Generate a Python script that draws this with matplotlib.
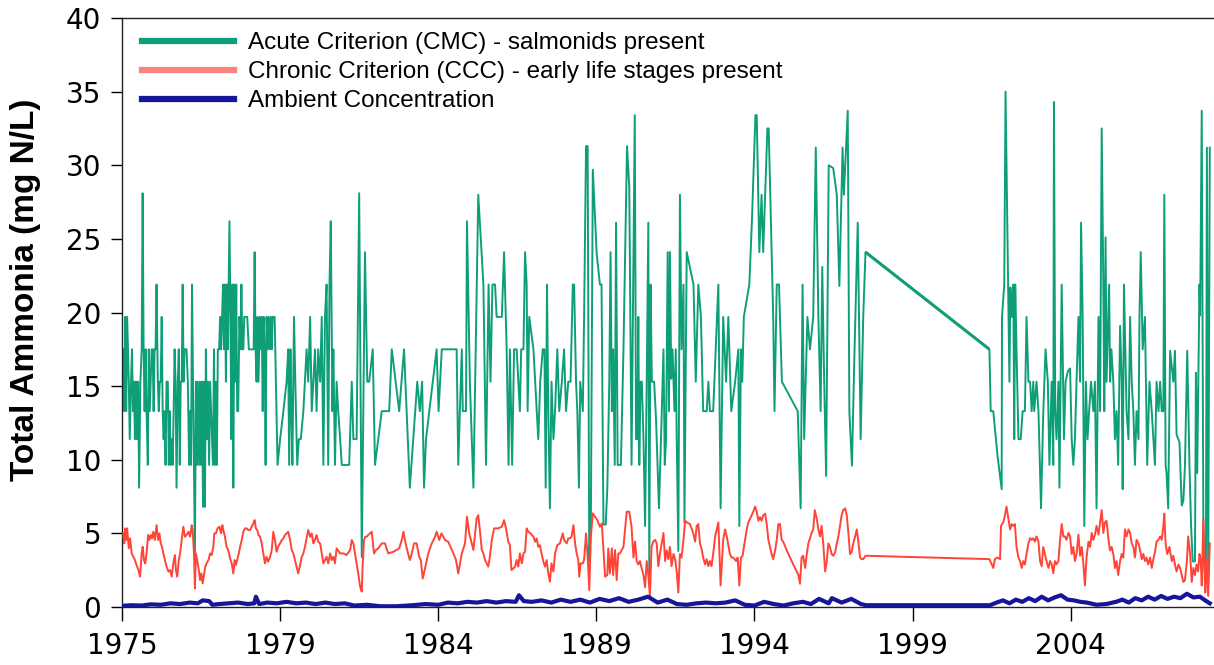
import numpy as np
import matplotlib
matplotlib.use("Agg")
import matplotlib.pyplot as plt
from matplotlib.lines import Line2D

# ---- data ----
acute_years = [
    1975.04, 1975.07, 1975.10, 1975.13, 1975.16, 1975.21, 1975.24, 1975.28, 1975.31, 1975.34,
    1975.37, 1975.40, 1975.43, 1975.46, 1975.50, 1975.53, 1975.57, 1975.61, 1975.64, 1975.67,
    1975.70, 1975.73, 1975.76, 1975.80, 1975.83, 1975.86, 1975.89, 1975.92, 1975.95, 1975.98,
    1976.01, 1976.04, 1976.07, 1976.11, 1976.14, 1976.17, 1976.20, 1976.23, 1976.26, 1976.29,
    1976.32, 1976.35, 1976.38, 1976.42, 1976.45, 1976.48, 1976.51, 1976.54, 1976.57, 1976.60,
    1976.63, 1976.66, 1976.69, 1976.73, 1976.76, 1976.79, 1976.82, 1976.85, 1976.88, 1976.91,
    1976.94, 1977.00, 1977.04, 1977.08, 1977.11, 1977.14, 1977.17, 1977.20, 1977.23, 1977.26,
    1977.29, 1977.32, 1977.35, 1977.39, 1977.42, 1977.45, 1977.48, 1977.51, 1977.54, 1977.57,
    1977.60, 1977.63, 1977.66, 1977.70, 1977.73, 1977.76, 1977.79, 1977.82, 1977.85, 1977.88,
    1977.91, 1977.94, 1977.97, 1978.01, 1978.04, 1978.07, 1978.10, 1978.13, 1978.16, 1978.19,
    1978.22, 1978.25, 1978.28, 1978.33, 1978.36, 1978.39, 1978.42, 1978.45, 1978.48, 1978.51,
    1978.54, 1978.57, 1978.60, 1978.64, 1978.67, 1978.70, 1978.73, 1978.76, 1978.79, 1978.85,
    1978.88, 1978.93, 1979.01, 1979.08, 1979.11, 1979.14, 1979.17, 1979.20, 1979.23, 1979.27,
    1979.30, 1979.33, 1979.36, 1979.39, 1979.42, 1979.45, 1979.48, 1979.51, 1979.54, 1979.58,
    1979.61, 1979.64, 1979.67, 1979.73, 1979.82, 1979.90, 1980.00, 1980.10, 1980.15, 1980.18,
    1980.22, 1980.25, 1980.28, 1980.33, 1980.39, 1980.43, 1980.48, 1980.54, 1980.62, 1980.72,
    1980.77, 1980.83, 1980.88, 1980.93, 1980.98, 1981.03, 1981.08, 1981.14, 1981.19, 1981.24,
    1981.29, 1981.34, 1981.39, 1981.43, 1981.47, 1981.52, 1981.55, 1981.60, 1981.65, 1981.70,
    1981.76, 1981.81, 1981.96, 1982.04, 1982.12, 1982.17, 1982.27, 1982.35, 1982.43,
    1982.53, 1982.60, 1982.66, 1982.77, 1982.84, 1983.05, 1983.28, 1983.36, 1983.59, 1983.74,
    1983.92, 1984.15, 1984.23, 1984.30, 1984.36, 1984.42, 1984.75, 1984.81, 1984.91, 1985.37,
    1985.42, 1985.53, 1985.56, 1985.66, 1985.69, 1985.78, 1985.89, 1986.04, 1986.20, 1986.28,
    1986.36, 1986.42, 1986.48, 1986.56, 1986.61, 1986.77, 1986.84, 1986.92, 1986.98, 1987.02,
    1987.09, 1987.15, 1987.23, 1987.33, 1987.37, 1987.44, 1987.49, 1987.54, 1987.57, 1987.62,
    1987.75, 1987.90, 1987.96, 1988.04, 1988.09, 1988.13, 1988.17, 1988.21, 1988.26, 1988.31,
    1988.37, 1988.42, 1988.49, 1988.55, 1988.63, 1988.70, 1988.76, 1988.83, 1988.90, 1988.97,
    1989.01, 1989.07, 1989.11, 1989.16, 1989.20, 1989.28, 1989.32, 1989.38, 1989.43, 1989.48,
    1989.53, 1989.59, 1989.71, 1989.81, 1989.86, 1989.92, 1989.99, 1990.04, 1990.10, 1990.14,
    1990.18, 1990.22, 1990.27, 1990.31, 1990.36, 1990.46, 1990.54, 1990.65, 1990.72, 1990.79,
    1990.89, 1990.93, 1990.97, 1991.00, 1991.03, 1991.07, 1991.11, 1991.16, 1991.21, 1991.26,
    1991.31, 1991.34, 1991.38, 1991.42, 1991.49, 1991.55, 1991.64, 1991.72, 1991.78, 1991.82,
    1991.86, 1991.91, 1991.95, 1991.98, 1992.02, 1992.06, 1992.12, 1992.16, 1992.19, 1992.24,
    1992.29, 1992.34, 1992.40, 1992.43, 1992.50, 1992.71, 1992.78, 1992.86, 1992.94, 1993.01,
    1993.12, 1993.17, 1993.22, 1993.32, 1993.48, 1993.55, 1993.63, 1993.72, 1993.79, 1993.88,
    1994.00, 1994.10, 1994.13, 1994.18, 1994.22, 1994.27, 1994.44, 1994.52, 1994.63, 1994.67,
    1994.75, 1994.82, 1994.87, 1995.00, 1995.04, 1995.18, 1995.22, 1995.29, 1995.36, 1995.45,
    1995.94, 1996.03, 1996.09, 1996.14, 1996.24, 1996.32, 1996.42, 1996.50, 1996.58, 1996.65,
    1996.70, 1996.76, 1996.82, 1996.90, 1997.04, 1997.15, 1997.23, 1997.33, 1997.37, 1997.49,
    1997.54, 1997.62, 1997.70, 1997.80, 1997.89, 1997.97, 1998.04,
    2001.88, 2001.92, 2002.00, 2002.13, 2002.26, 2002.27, 2002.34, 2002.38, 2002.50, 2002.53,
    2002.57, 2002.62, 2002.65, 2002.68, 2002.72, 2002.78, 2002.85, 2002.91, 2002.98, 2003.03,
    2003.09, 2003.14, 2003.19, 2003.24, 2003.27, 2003.34, 2003.40, 2003.48, 2003.55, 2003.62,
    2003.69, 2003.74, 2003.81, 2003.86, 2003.88, 2003.92, 2003.96, 2004.02, 2004.05, 2004.12,
    2004.19, 2004.24, 2004.31, 2004.38, 2004.43, 2004.48, 2004.53, 2004.58, 2004.64, 2004.69,
    2004.72, 2004.77, 2004.82, 2004.87, 2004.92, 2004.97, 2005.03, 2005.10, 2005.15, 2005.20,
    2005.26, 2005.31, 2005.36, 2005.41, 2005.44, 2005.48, 2005.51, 2005.59, 2005.62, 2005.66,
    2005.72, 2005.77, 2005.82, 2005.87, 2005.93, 2005.98, 2006.01, 2006.05, 2006.13, 2006.19,
    2006.24, 2006.29, 2006.34, 2006.39, 2006.44, 2006.50, 2006.53, 2006.57, 2006.63, 2006.70,
    2006.77, 2006.84, 2006.91, 2007.01, 2007.06, 2007.12, 2007.17, 2007.22, 2007.27, 2007.30,
    2007.34, 2007.37, 2007.42, 2007.48, 2007.58, 2007.63, 2007.68, 2007.77, 2007.84, 2007.89,
    2007.94, 2008.01, 2008.08, 2008.13, 2008.18, 2008.25, 2008.28, 2008.32, 2008.39, 2008.41,
    2008.46, 2008.51, 2008.56, 2008.59, 2008.62, 2008.66, 2008.71,
]
acute_vals = [
    17.5, 13.3, 19.7, 13.3, 19.7, 15.3, 11.4, 15.3, 17.5, 13.3,
    15.3, 11.4, 15.3, 11.4, 15.3, 8.1, 15.3, 17.5, 28.1, 17.5,
    13.3, 17.5, 13.3, 9.65, 17.5, 13.3, 15.3, 17.5, 17.5, 13.3,
    17.5, 17.5, 21.9, 15.3, 13.3, 15.3, 15.3, 19.7, 13.3, 11.4,
    13.3, 9.65, 15.3, 15.3, 9.65, 13.3, 9.65, 11.4, 9.65, 13.3,
    17.5, 15.3, 8.1, 15.3, 17.5, 9.65, 15.3, 15.3, 21.9, 15.3,
    17.5, 17.5, 15.3, 9.65, 13.3, 9.65, 21.9, 15.3, 9.65, 3.6,
    15.3, 9.65, 15.3, 9.65, 15.3, 9.65, 15.3, 6.8, 15.3, 6.8,
    17.5, 11.4, 15.3, 9.65, 15.3, 13.3, 11.4, 9.65, 17.5, 9.65,
    15.3, 9.65, 17.5, 17.5, 19.7, 17.5, 19.7, 21.9, 17.5, 21.9,
    15.3, 21.9, 17.5, 26.2, 19.7, 11.4, 21.9, 8.1, 21.9, 15.3,
    21.9, 13.3, 13.3, 19.7, 17.5, 21.9, 17.5, 17.5, 19.7, 19.7,
    19.7, 17.5, 17.5, 17.5, 24.1, 17.5, 15.3, 19.7, 15.3, 19.7,
    17.5, 19.7, 13.3, 19.7, 17.5, 9.65, 19.7, 17.5, 19.7, 17.5,
    19.7, 17.5, 19.7, 19.7, 9.65, 11.4, 13.3, 15.3, 17.5, 9.65,
    17.5, 13.3, 9.65, 19.7, 13.3, 9.65, 11.4, 11.4, 13.3, 17.5,
    15.3, 19.7, 13.3, 15.3, 17.5, 13.3, 17.5, 15.3, 19.7, 9.65,
    19.7, 21.9, 9.65, 21.9, 26.2, 13.3, 17.5, 9.65, 15.3, 13.3,
    11.4, 9.65, 9.65, 9.65, 15.3, 11.4, 11.4, 28.1, 3.4,
    24.1, 15.3, 15.3, 17.5, 9.65, 13.3, 13.3, 17.5, 13.3, 17.5,
    8.1, 15.3, 13.3, 15.3, 8.1, 11.4, 17.5, 13.3, 17.5, 17.5,
    9.65, 17.5, 13.3, 13.3, 26.2, 15.3, 8.1, 28.0, 21.9, 9.65,
    21.9, 15.3, 21.9, 21.9, 19.7, 19.7, 24.1, 17.5, 9.65, 17.5,
    9.65, 17.5, 17.5, 13.3, 17.5, 17.5, 24.1, 21.9, 13.3, 19.7,
    17.5, 11.4, 15.3, 17.5, 17.5, 8.1, 21.9, 13.3, 6.7, 15.3,
    11.4, 13.3, 17.5, 13.3, 15.3, 17.5, 13.3, 15.3, 15.3, 21.9,
    21.9, 15.3, 13.3, 8.1, 15.3, 13.3, 19.7, 31.3, 31.3, 3.1,
    5.9, 29.7, 24.0, 21.9, 21.9, 5.6, 5.6, 8.1, 15.3, 24.1,
    13.3, 17.5, 9.65, 26.1, 9.65, 9.65, 17.5, 31.3, 28.5, 9.65,
    33.4, 11.4, 11.4, 19.7, 9.65, 15.3, 15.3, 11.4, 5.5, 15.3,
    26.1, 2.2, 21.9, 15.3, 15.3, 12.7, 6.7, 12.7, 17.5, 9.65,
    11.4, 24.1, 13.3, 24.1, 15.5, 17.5, 13.3, 17.5, 11.4, 3.8,
    28.0, 17.5, 21.9, 5.7, 24.1, 21.9, 15.3, 21.9, 19.7, 13.3,
    13.3, 15.3, 13.3, 13.3, 21.9, 6.7, 19.7, 15.3, 19.7, 13.3,
    15.3, 17.5, 5.5, 17.5, 15.3, 19.7, 21.9, 26.2, 33.4, 33.4,
    24.1, 28.0, 24.1, 32.5, 32.5, 19.7, 13.3, 21.9, 21.9, 15.3,
    13.3, 6.7, 21.9, 11.4, 19.7, 17.5, 19.7, 31.2, 19.7, 13.3,
    23.1, 15.3, 8.9, 30.0, 29.8, 28.0, 21.8, 31.2, 28.0, 33.7,
    13.3, 9.6, 17.4, 26.1, 11.4, 19.7, 24.1,
    17.5, 13.3, 13.3, 10.3, 8.0, 19.7, 21.9, 35.0, 15.3, 21.7,
    19.7, 21.9, 11.4, 21.9, 17.5, 11.4, 11.4, 13.3, 13.3, 19.7,
    15.3, 15.3, 13.3, 15.3, 13.3, 15.3, 13.3, 6.7, 13.3, 17.5,
    15.3, 9.65, 15.3, 9.65, 34.3, 13.3, 11.4, 15.3, 8.1, 21.9,
    11.4, 15.3, 16.0, 16.2, 11.4, 9.65, 11.4, 15.3, 19.7, 15.3,
    26.1, 19.7, 5.5, 15.3, 11.4, 13.3, 15.3, 13.3, 15.3, 6.7,
    19.7, 13.3, 32.5, 21.9, 13.3, 25.1, 15.3, 21.9, 15.3, 17.5,
    15.3, 11.4, 13.3, 9.65, 19.1, 15.3, 8.0, 21.9, 13.3, 11.4,
    19.7, 15.3, 13.3, 9.65, 13.3, 11.4, 19.7, 24.1, 17.5, 19.7,
    9.65, 15.3, 13.3, 9.65, 15.3, 13.3, 15.3, 13.3, 13.3, 28.0,
    9.65, 9.1, 6.7, 17.4, 15.3, 17.4, 11.7, 11.2, 6.9, 7.2,
    9.6, 17.4, 9.6, 5.5, 3.1, 3.1, 15.9, 9.1, 21.9, 19.8,
    33.7, 5.5, 2.4, 2.4, 31.2, 1.5, 31.2,
]

chronic_years = [
    1975.04, 1975.07, 1975.10, 1975.13, 1975.16, 1975.21, 1975.25, 1975.30, 1975.35, 1975.40,
    1975.45, 1975.51, 1975.56, 1975.61, 1975.64, 1975.68, 1975.72, 1975.76, 1975.81, 1975.85,
    1975.89, 1975.93, 1975.97, 1976.02, 1976.07, 1976.12, 1976.16, 1976.20, 1976.24, 1976.28,
    1976.33, 1976.38, 1976.44, 1976.49, 1976.54, 1976.59, 1976.64, 1976.67, 1976.71, 1976.76,
    1976.80, 1976.85, 1976.90, 1976.95, 1977.00, 1977.06, 1977.11, 1977.16, 1977.19, 1977.23,
    1977.26, 1977.29, 1977.33, 1977.38, 1977.42, 1977.46, 1977.50, 1977.54, 1977.58, 1977.62,
    1977.68, 1977.73, 1977.78, 1977.83, 1977.86, 1977.91, 1977.96, 1978.02, 1978.07, 1978.11,
    1978.14, 1978.19, 1978.24, 1978.29, 1978.35, 1978.40, 1978.45, 1978.49, 1978.53, 1978.57,
    1978.62, 1978.66, 1978.71, 1978.76, 1978.81, 1978.86, 1978.91, 1978.97, 1979.02, 1979.07,
    1979.11, 1979.15, 1979.19, 1979.23, 1979.28, 1979.33, 1979.38, 1979.43, 1979.48, 1979.53,
    1979.59, 1979.64, 1979.69, 1979.74, 1979.79, 1979.84, 1979.90, 1979.95, 1980.00, 1980.05,
    1980.10, 1980.15, 1980.21, 1980.26, 1980.31, 1980.36, 1980.41, 1980.46, 1980.52, 1980.57,
    1980.62, 1980.67, 1980.72, 1980.77, 1980.83, 1980.88, 1980.93, 1980.98, 1981.03, 1981.08,
    1981.14, 1981.19, 1981.24, 1981.29, 1981.34, 1981.39, 1981.45, 1981.50, 1981.55, 1981.60,
    1981.65, 1981.76, 1981.86, 1981.96, 1982.07, 1982.12, 1982.17, 1982.22, 1982.27, 1982.32,
    1982.38, 1982.43, 1982.46, 1982.50, 1982.54, 1982.58, 1982.63,
    1982.74, 1982.81, 1982.87, 1982.94, 1983.05, 1983.15, 1983.25, 1983.41, 1983.59, 1983.67,
    1983.72, 1983.79, 1983.85, 1983.92, 1983.98, 1984.05, 1984.13, 1984.21, 1984.26, 1984.32,
    1984.39, 1984.49, 1984.60, 1984.70, 1984.75, 1984.83, 1984.90, 1985.01, 1985.11, 1985.27,
    1985.35, 1985.42, 1985.53, 1985.63, 1985.69, 1985.76, 1985.89, 1985.99, 1986.04, 1986.09,
    1986.15, 1986.20, 1986.25, 1986.30, 1986.35, 1986.40, 1986.46, 1986.53, 1986.66, 1986.77,
    1986.84, 1986.90, 1986.97, 1987.02, 1987.07, 1987.13, 1987.18, 1987.23, 1987.28, 1987.33,
    1987.39, 1987.44, 1987.49, 1987.54, 1987.59, 1987.66, 1987.75, 1987.80, 1987.85, 1987.90,
    1987.95, 1988.00, 1988.06, 1988.11, 1988.16, 1988.21, 1988.26, 1988.31, 1988.37, 1988.42,
    1988.49, 1988.57, 1988.66, 1988.70, 1988.78, 1988.83, 1988.88, 1988.93, 1988.99, 1989.04,
    1989.09, 1989.14, 1989.17, 1989.21, 1989.28, 1989.32, 1989.38, 1989.43, 1989.48, 1989.53,
    1989.59, 1989.66, 1989.73, 1989.81, 1989.87, 1989.92, 1989.97, 1990.04, 1990.07, 1990.12,
    1990.18, 1990.22, 1990.28, 1990.33, 1990.38, 1990.43, 1990.54, 1990.64, 1990.72, 1990.79,
    1990.85, 1990.90, 1990.95, 1991.00, 1991.05, 1991.10, 1991.16, 1991.21, 1991.26, 1991.31,
    1991.36, 1991.41, 1991.46, 1991.52, 1991.57, 1991.62, 1991.67, 1991.78, 1991.83, 1991.88,
    1991.93, 1991.98, 1992.03, 1992.09, 1992.14, 1992.19, 1992.24, 1992.29, 1992.34, 1992.40,
    1992.45, 1992.50, 1992.60, 1992.70, 1992.76, 1992.81, 1992.86, 1992.91, 1992.96, 1993.01,
    1993.07, 1993.12, 1993.17, 1993.22, 1993.27, 1993.32, 1993.38, 1993.43, 1993.48, 1993.55,
    1993.63, 1993.69, 1993.74, 1993.84, 1993.89, 1993.94, 1994.03, 1994.08, 1994.13, 1994.18,
    1994.23, 1994.31, 1994.36, 1994.41, 1994.46, 1994.51, 1994.56, 1994.62, 1994.67, 1994.72,
    1994.77, 1994.82, 1994.87, 1994.93, 1994.98, 1995.03, 1995.08, 1995.13, 1995.18, 1995.24,
    1995.29, 1995.34, 1995.39, 1995.44, 1995.49, 1995.60, 1995.70, 1995.80, 1995.91, 1995.96,
    1996.01, 1996.06, 1996.11, 1996.17, 1996.22, 1996.27, 1996.32, 1996.37, 1996.42, 1996.47,
    1996.53, 1996.58, 1996.63, 1996.68, 1996.73, 1996.79, 1996.84, 1996.89, 1996.94, 1996.99,
    1997.04, 1997.10, 1997.15, 1997.20, 1997.25, 1997.30, 1997.35, 1997.41, 1997.46, 1997.51,
    1997.56, 1997.61, 1997.66, 1997.72, 1997.77, 1997.82, 1997.87, 1997.92, 1997.97, 1998.04,
    2001.88, 2001.95, 2002.00, 2002.05, 2002.13, 2002.21, 2002.24, 2002.31, 2002.36, 2002.41,
    2002.47, 2002.52, 2002.57, 2002.62, 2002.67, 2002.72, 2002.78, 2002.83, 2002.88, 2002.93,
    2002.98, 2003.03, 2003.09, 2003.14, 2003.19, 2003.24, 2003.29, 2003.34, 2003.40, 2003.45,
    2003.50, 2003.55, 2003.60, 2003.65, 2003.71, 2003.76, 2003.81, 2003.86, 2003.91, 2003.96,
    2004.02, 2004.07, 2004.12, 2004.17, 2004.22, 2004.27, 2004.33, 2004.38, 2004.43, 2004.48,
    2004.53, 2004.58, 2004.64, 2004.69, 2004.74, 2004.79, 2004.84, 2004.89, 2004.95, 2005.00,
    2005.05, 2005.10, 2005.15, 2005.20, 2005.26, 2005.31, 2005.36, 2005.41, 2005.46, 2005.51,
    2005.57, 2005.62, 2005.67, 2005.72, 2005.77, 2005.82, 2005.87, 2005.93, 2005.98, 2006.03,
    2006.08, 2006.13, 2006.19, 2006.24, 2006.29, 2006.34, 2006.39, 2006.44, 2006.50, 2006.55,
    2006.60, 2006.65, 2006.70, 2006.75, 2006.80, 2006.86, 2006.91, 2006.96, 2007.01, 2007.06,
    2007.12, 2007.17, 2007.22, 2007.27, 2007.30, 2007.34, 2007.39, 2007.46, 2007.53, 2007.58,
    2007.63, 2007.68, 2007.74, 2007.79, 2007.84, 2007.89, 2007.94, 2008.00, 2008.04, 2008.10,
    2008.15, 2008.20, 2008.25, 2008.30, 2008.35, 2008.39, 2008.43, 2008.46, 2008.51, 2008.54,
    2008.57, 2008.61, 2008.66, 2008.71,
]
chronic_vals = [
    5.00, 4.32, 5.34, 4.55, 5.34, 3.98, 4.66, 3.64, 3.41, 3.19,
    2.85, 2.51, 2.06, 3.64, 4.09, 3.19, 2.96, 3.64, 4.89, 4.55,
    4.89, 4.66, 5.11, 4.55, 5.56, 4.55, 5.00, 4.32, 4.09, 3.64,
    3.19, 2.74, 2.40, 2.51, 2.06, 2.96, 3.53, 2.51, 2.06, 3.19,
    3.64, 4.55, 5.45, 4.77, 4.89, 5.11, 4.77, 5.56, 5.23, 3.64,
    1.26, 3.64, 3.19, 2.51, 1.83, 2.28, 1.60, 2.17, 2.74, 2.96,
    3.19, 3.64, 3.53, 4.09, 5.00, 5.00, 5.34, 5.45, 5.00, 5.56,
    5.23, 4.77, 4.09, 3.87, 3.30, 2.96, 2.28, 3.19, 2.85, 3.19,
    3.64, 4.09, 4.55, 5.11, 5.34, 5.34, 5.23, 5.23, 5.45, 5.68,
    5.90, 5.34, 5.23, 4.89, 4.77, 4.32, 3.64, 2.96, 3.41, 3.07,
    3.41, 3.87, 5.11, 4.55, 3.75, 4.09, 4.32, 4.55, 4.66, 4.89,
    5.00, 5.11, 4.55, 3.87, 3.64, 3.19, 2.74, 2.28, 2.85, 3.41,
    3.64, 4.09, 4.66, 5.23, 4.77, 5.00, 4.32, 4.55, 4.89, 4.43,
    4.32, 3.64, 2.96, 3.19, 3.41, 2.96, 3.64, 3.19, 3.41, 2.96,
    3.98, 3.64, 3.64, 3.53, 3.87, 4.55, 4.32, 3.64, 2.96, 2.28,
    1.38, 1.04, 2.96, 4.55, 4.77, 4.77, 4.89,
    5.11, 3.64, 3.87, 3.98, 4.32, 4.32, 3.64, 3.75, 3.98, 4.55,
    5.11, 4.32, 3.75, 3.19, 3.64, 4.32, 4.32, 3.41, 3.19, 1.94,
    2.62, 3.64, 4.32, 4.77, 5.11, 4.55, 5.00, 4.55, 4.43, 3.64,
    3.19, 2.28, 3.64, 4.32, 6.13, 5.00, 3.87, 6.02, 6.24, 5.23,
    3.87, 3.64, 3.19, 2.96, 2.74, 3.41, 4.55, 5.34, 5.34, 5.45,
    5.90, 5.34, 4.43, 4.20, 2.51, 2.62, 2.74, 3.19, 2.74, 3.64,
    2.96, 3.64, 3.75, 5.34, 5.11, 5.00, 4.77, 4.43, 4.66, 4.09,
    4.20, 3.64, 3.07, 2.74, 3.19, 2.28, 1.72, 2.96, 2.40, 3.64,
    4.20, 4.32, 5.00, 4.55, 4.32, 4.66, 4.66, 4.77, 5.56, 4.32,
    3.64, 3.19, 2.06, 2.96, 2.96, 3.19, 5.00, 3.41, 1.15, 4.77,
    6.36, 6.13, 5.90, 5.45, 5.68, 3.87, 2.06, 2.17, 3.98, 2.28,
    3.98, 2.17, 3.87, 1.83, 3.64, 3.64, 4.09, 6.47, 6.47, 5.45,
    3.36, 4.44, 3.12, 2.89, 3.12, 2.65, 2.17, 1.34, 3.12, 2.17,
    0.75, 4.08, 4.44, 4.56, 4.32, 2.77, 3.60, 5.03, 3.12, 3.84,
    3.25, 4.08, 2.77, 3.60, 3.25, 2.41, 0.98, 3.60, 3.36, 4.56,
    5.86, 5.75, 5.63, 5.03, 4.44, 5.51, 5.63, 4.32, 3.96, 3.36,
    2.89, 3.25, 2.77, 3.12, 2.77, 3.60, 4.79, 5.27, 5.75, 1.46,
    4.56, 5.27, 4.79, 3.60, 3.36, 3.36, 3.12, 3.36, 1.46, 3.36,
    3.48, 4.56, 5.27, 5.75, 5.98, 6.22, 6.46, 6.82, 6.46, 5.86,
    6.10, 5.86, 6.22, 6.34, 5.63, 4.56, 4.08, 3.60, 3.25, 3.84,
    4.56, 5.63, 5.63, 4.56, 4.44, 3.84, 3.36, 2.89, 2.41, 2.17,
    1.58, 3.36, 3.48, 2.65, 3.60, 4.32, 4.67, 5.03, 5.27, 6.58,
    5.98, 5.27, 4.79, 5.51, 4.32, 2.41, 3.12, 4.32, 4.08, 3.60,
    3.48, 3.72, 4.32, 4.79, 5.51, 6.22, 6.58, 6.70, 6.22, 5.03,
    3.60, 3.72, 4.32, 4.79, 5.27, 4.44, 3.36, 3.25, 3.25, 3.48,
    3.25, 2.89, 2.65, 3.25, 3.36, 3.25, 5.51, 5.75, 6.22, 6.82,
    5.98, 5.27, 5.63, 5.51, 5.63, 4.08, 3.36, 3.12, 2.65, 3.12,
    2.89, 3.60, 4.32, 4.67, 4.56, 4.67, 4.44, 4.79, 4.44, 3.12,
    2.77, 4.08, 3.60, 3.12, 2.65, 3.12, 2.89, 2.29, 3.12, 2.89,
    3.12, 4.56, 5.63, 4.79, 4.79, 4.56, 5.03, 4.79, 3.60, 4.08,
    3.12, 3.60, 4.91, 3.48, 4.08, 3.00, 1.46, 3.36, 4.44, 4.08,
    5.03, 4.56, 4.91, 5.51, 4.91, 5.75, 6.58, 5.03, 5.75, 5.86,
    4.56, 3.84, 4.08, 3.60, 2.65, 3.12, 2.17, 3.12, 3.60, 3.36,
    5.27, 4.79, 5.27, 5.03, 4.32, 4.08, 3.36, 4.56, 4.32, 3.84,
    3.25, 3.60, 3.12, 3.36, 2.89, 3.36, 2.65, 3.25, 3.72, 4.44,
    4.56, 4.79, 4.56, 5.51, 6.34, 4.32, 3.60, 4.08, 3.12, 3.48,
    2.89, 2.41, 2.89, 2.65, 2.17, 1.70, 1.82, 3.12, 4.79, 3.60,
    1.70, 2.65, 2.17, 2.89, 2.41, 3.60, 3.12, 1.46, 5.98, 2.65,
    0.98, 3.25, 0.75, 4.32,
]

ambient_years = [
    1975.0, 1975.3, 1975.6, 1975.9, 1976.2, 1976.5, 1976.8, 1977.1, 1977.35, 1977.5,
    1977.7, 1977.8, 1978.0, 1978.3, 1978.6, 1978.9, 1979.1, 1979.15, 1979.25, 1979.5,
    1979.8, 1980.1, 1980.4, 1980.7, 1981.0, 1981.3, 1981.6, 1981.9, 1982.2, 1982.6,
    1983.0, 1983.5, 1984.0, 1984.4, 1984.8, 1985.1, 1985.4, 1985.7, 1986.0, 1986.3,
    1986.6, 1986.9, 1987.2, 1987.3, 1987.45, 1987.7, 1988.0, 1988.3, 1988.6, 1988.9,
    1989.2, 1989.5, 1989.8, 1990.1, 1990.4, 1990.7, 1991.0, 1991.3, 1991.6, 1991.9,
    1992.2, 1992.5, 1992.8, 1993.1, 1993.4, 1993.7, 1994.0, 1994.3, 1994.6, 1994.9,
    1995.2, 1995.5, 1995.8, 1996.1, 1996.35, 1996.6, 1996.9, 1997.0, 1997.3, 1997.6,
    1997.9, 1998.05, 2001.9, 2002.1, 2002.3, 2002.5, 2002.7, 2002.9, 2003.1, 2003.3,
    2003.5, 2003.7, 2003.9, 2004.1, 2004.3, 2004.5, 2004.7, 2004.9, 2005.2, 2005.5,
    2005.8, 2006.0, 2006.2, 2006.4, 2006.6, 2006.8, 2007.0, 2007.2, 2007.4, 2007.6,
    2007.8, 2008.0, 2008.2, 2008.4, 2008.6, 2008.71,
]
ambient_vals = [
    0.08, 0.12, 0.10, 0.18, 0.15, 0.25, 0.20, 0.30, 0.25, 0.45,
    0.40, 0.15, 0.20, 0.25, 0.30, 0.20, 0.25, 0.70, 0.20, 0.30,
    0.25, 0.35, 0.25, 0.30, 0.20, 0.30, 0.20, 0.25, 0.10, 0.15,
    0.05, 0.05, 0.12, 0.20, 0.15, 0.30, 0.25, 0.35, 0.30, 0.40,
    0.30, 0.40, 0.35, 0.80, 0.40, 0.35, 0.45, 0.30, 0.50, 0.35,
    0.50, 0.30, 0.55, 0.40, 0.60, 0.35, 0.50, 0.70, 0.30, 0.50,
    0.20, 0.15, 0.25, 0.30, 0.25, 0.30, 0.45, 0.15, 0.10, 0.35,
    0.20, 0.10, 0.25, 0.35, 0.20, 0.55, 0.25, 0.60, 0.30, 0.55,
    0.20, 0.12, 0.12, 0.30, 0.45, 0.25, 0.50, 0.35, 0.60, 0.40,
    0.70, 0.45, 0.65, 0.80, 0.50, 0.45, 0.35, 0.30, 0.15, 0.20,
    0.35, 0.50, 0.30, 0.60, 0.45, 0.70, 0.50, 0.75, 0.55, 0.70,
    0.60, 0.90, 0.65, 0.70, 0.40, 0.25,
]

series_labels = [
    "Acute Criterion (CMC) - salmonids present",
    "Chronic Criterion (CCC) - early life stages present",
    "Ambient Concentration",
]

# Excel-style date axis: first label at the axis start, major unit ~4.9 yr
x_start, x_end = 1975.0, 2008.84
major_unit = 4.9

green = "#0E9F78"
red = "#FF4438"
red_legend = "#FA8480"
navy = "#16169A"

fig = plt.figure(figsize=(12.14, 6.65), dpi=100)
ax = fig.add_axes([122 / 1214, 1 - 607 / 665, 1 - 122 / 1214, (607 - 18) / 665])

ax.plot(acute_years, acute_vals, color=green, lw=1.4, zorder=2)
# the long sampling gap (1998-2001) is drawn a little heavier in the original
gap = int(np.argmax(np.diff(acute_years)))
ax.plot(acute_years[gap:gap + 2], acute_vals[gap:gap + 2], color=green,
        lw=2.2, zorder=2, solid_capstyle="butt")
ax.plot(chronic_years, chronic_vals, color=red, lw=1.4, zorder=3)
ax.plot(ambient_years, ambient_vals, color=navy, lw=3.0, zorder=4,
        solid_joinstyle="round")

ax.set_xlim(x_start, x_end)
ax.set_ylim(0, 40)
ax.set_yticks(np.arange(0, 41, 5))

ticks = x_start + major_unit * np.arange(7)
ax.set_xticks(ticks)
ax.set_xticklabels([str(int(t)) for t in ticks])

ax.tick_params(axis="y", direction="out", length=8, width=1, pad=7,
               labelsize=20, colors="black")
ax.tick_params(axis="x", direction="out", length=10, width=1, pad=8,
               labelsize=20, colors="black")
for lbl in ax.get_xticklabels() + ax.get_yticklabels():
    lbl.set_family("DejaVu Sans")

for side in ("left", "bottom", "top"):
    ax.spines[side].set_linewidth(1.0)
    ax.spines[side].set_color("#222222")
ax.spines["right"].set_visible(False)

ax.set_ylabel("Total Ammonia (mg N/L)", fontsize=24, fontweight="bold",
              family="Liberation Sans")
ax.yaxis.set_label_coords(-0.074, 0.538)

handles = [
    Line2D([], [], color=green, lw=4.5),
    Line2D([], [], color=red_legend, lw=4.5),
    Line2D([], [], color=navy, lw=4.5),
]
ax.legend(handles, series_labels, loc="upper left",
          bbox_to_anchor=(20 / 1092, 0.976), frameon=False,
          prop={"family": "Liberation Sans", "size": 17.5},
          handlelength=3.8, handletextpad=0.55, labelspacing=0.29,
          borderpad=0, borderaxespad=0)

fig.savefig("out.png", dpi=100, facecolor="white")
